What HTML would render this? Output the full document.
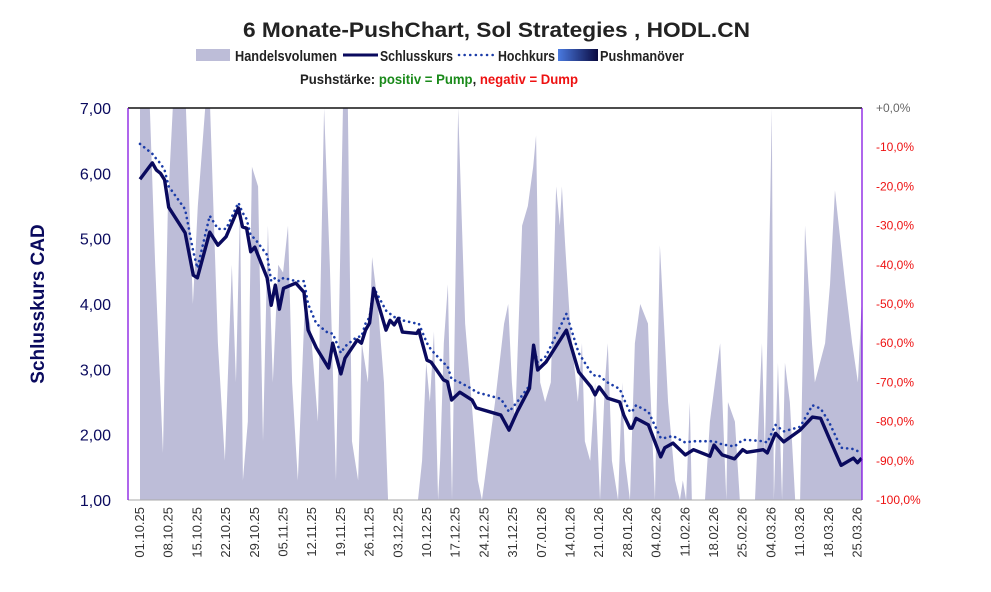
<!DOCTYPE html>
<html><head><meta charset="utf-8"><style>
body{margin:0;background:#fff;}
svg text{font-family:"Liberation Sans",Arial,sans-serif;}
</style></head><body>
<svg id="chart" width="991" height="587" viewBox="0 0 991 587" xmlns="http://www.w3.org/2000/svg">
<defs><linearGradient id="pg" x1="0" x2="1"><stop offset="0" stop-color="#4a7ae0"/><stop offset="1" stop-color="#0a0a40"/></linearGradient></defs>
<text x="243" y="37" font-size="21" font-weight="bold" fill="#222" textLength="507" lengthAdjust="spacingAndGlyphs">6 Monate-PushChart, Sol Strategies , HODL.CN</text>
<g>
<rect x="196" y="49" width="34" height="12" fill="#bdbdd8"/>
<text x="235" y="61" font-size="15" font-weight="bold" fill="#222" textLength="102" lengthAdjust="spacingAndGlyphs">Handelsvolumen</text>
<line x1="343" y1="55" x2="378" y2="55" stroke="#0a0a5e" stroke-width="3"/>
<text x="380" y="61" font-size="15" font-weight="bold" fill="#222" textLength="73" lengthAdjust="spacingAndGlyphs">Schlusskurs</text>
<line x1="459" y1="55" x2="493" y2="55" stroke="#1b3ca8" stroke-width="2.5" stroke-dasharray="0.1 5.5" stroke-linecap="round"/>
<text x="498" y="61" font-size="15" font-weight="bold" fill="#222" textLength="57" lengthAdjust="spacingAndGlyphs">Hochkurs</text>
<rect x="558" y="49" width="40" height="12" fill="url(#pg)"/>
<text x="600" y="61" font-size="15" font-weight="bold" fill="#222" textLength="84" lengthAdjust="spacingAndGlyphs">Pushmanöver</text>
</g>
<text x="300" y="84" font-size="14" font-weight="bold" textLength="278" lengthAdjust="spacingAndGlyphs"><tspan fill="#222">Pushstärke:  </tspan><tspan fill="#1a8a1a">positiv = Pump</tspan><tspan fill="#222">,  </tspan><tspan fill="#ee1111">negativ = Dump</tspan></text>
<text transform="translate(44,304) rotate(-90)" text-anchor="middle" font-size="19" font-weight="bold" fill="#0a0a5e">Schlusskurs CAD</text>
<g id="plot"></g>
</svg>
<script>
const closeDays=[0,3,4,5,6,7,11,13,14,17,19,21,24,25,26,27,28,31,32,33,34,35,38,40,41,43,46,47,49,50,53,54,55,56,57,60,61,62,63,64,67.5,68,70,71,74,75,76,78,81,82,88,90,92,95,96,97,99,104,107,110,111,112,114,117,118,119.5,120,121,124,127,128,130,133,135,139,140,142,145,147,148,152,153,155,157,161,164,166,168,171,174,175,176];
const closeVals=[5.91,6.16,6.05,6.0,5.9,5.48,5.09,4.44,4.4,5.1,4.9,5.03,5.47,5.18,5.16,4.8,4.87,4.4,3.98,4.29,3.92,4.24,4.32,4.18,3.6,3.33,3.02,3.4,2.93,3.17,3.45,3.4,3.6,3.71,4.24,3.6,3.75,3.68,3.78,3.57,3.55,3.6,3.14,3.11,2.84,2.81,2.53,2.65,2.53,2.41,2.3,2.07,2.35,2.71,3.37,2.99,3.11,3.6,2.96,2.73,2.61,2.73,2.56,2.5,2.3,2.1,2.1,2.25,2.15,1.66,1.8,1.87,1.69,1.77,1.67,1.84,1.69,1.63,1.77,1.73,1.77,1.72,2.02,1.89,2.07,2.27,2.25,1.96,1.53,1.64,1.57,1.64];
const highVals=[6.45,6.3,6.22,6.15,6.05,5.8,5.45,4.8,4.55,5.35,5.15,5.15,5.55,5.4,5.3,5.05,5.0,4.75,4.35,4.4,4.35,4.4,4.35,4.35,4.0,3.7,3.55,3.55,3.25,3.35,3.5,3.5,3.7,3.8,4.25,3.9,3.85,3.8,3.8,3.75,3.7,3.7,3.4,3.3,3.1,3.05,2.85,2.8,2.7,2.65,2.55,2.35,2.5,2.75,3.35,3.1,3.2,3.85,3.25,2.95,2.9,2.9,2.8,2.7,2.55,2.35,2.35,2.45,2.35,1.95,1.95,1.98,1.88,1.9,1.9,1.9,1.85,1.82,1.92,1.92,1.9,1.88,2.15,2.05,2.12,2.45,2.4,2.2,1.8,1.78,1.75,1.72];
const volDays=[0,2.4,3.7,5.6,6.8,8,11.2,12.9,14.1,15.9,17.1,19,20.7,22.4,23.4,24.4,25.1,26.3,27.3,28.8,30,31.2,32.4,33.7,34.9,36.1,37.1,38.5,40.2,41.5,43.4,44.9,46.3,47.8,49.5,50.7,51.7,53.2,54.1,55.6,56.6,58,59.5,60.5,62,63.4,65.9,67.8,68.8,69.8,70.7,71.7,72.7,73.2,74.1,75.1,76.1,77.6,79.3,80.5,82.4,83.4,86.6,88.8,89.8,90.7,91.5,93.2,94.6,95.9,96.6,97.6,98.8,100.2,101.5,102.4,102.9,103.7,104.9,106.8,107.8,108.5,109.8,111,112.2,113.4,114.1,115.1,116.6,117.6,118.3,119.5,120.7,122,123.9,124.4,125.6,126.8,128.8,130.5,131.7,132.4,133.2,134.1,134.6,137.8,139,141.5,143,143.4,145.1,146.3,147.6,150,151.7,152.4,153.7,154.1,154.6,155.6,156.6,157.3,158.5,159.8,161,162.2,163.9,164.6,167.1,168.3,169.5,172,173.7,175.1,176];
const volVals=[100,100,60,12,75,100,100,50,75,100,100,40,10,60,30,75,5,20,85,80,15,70,30,60,58,70,30,5,50,45,20,100,60,5,100,100,15,5,40,30,62,50,30,0,0,0,0,0,10,35,25,43,0,10,40,55,0,100,45,30,5,0,25,45,50,30,20,70,75,85,93,30,25,30,80,70,80,65,45,25,40,15,10,30,0,30,40,10,0,30,10,0,40,50,45,30,0,65,25,5,0,5,0,25,0,0,20,40,0,25,20,0,0,0,40,12,75,100,0,35,0,35,25,0,0,70,40,30,40,55,79,55,40,30,50];
const yTicks=[1,2,3,4,5,6,7];
const yTickLabels=["1,00","2,00","3,00","4,00","5,00","6,00","7,00"];
const rTicks=[0,-10,-20,-30,-40,-50,-60,-70,-80,-90,-100];
const rTickLabels=["+0,0%","-10,0%","-20,0%","-30,0%","-40,0%","-50,0%","-60,0%","-70,0%","-80,0%","-90,0%","-100,0%"];
const xTickDays=[0,7,14,21,28,35,42,49,56,63,70,77,84,91,98,105,112,119,126,133,140,147,154,161,168,175];
const xTickLabels=["01.10.25","08.10.25","15.10.25","22.10.25","29.10.25","05.11.25","12.11.25","19.11.25","26.11.25","03.12.25","10.12.25","17.12.25","24.12.25","31.12.25","07.01.26","14.01.26","21.01.26","28.01.26","04.02.26","11.02.26","18.02.26","25.02.26","04.03.26","11.03.26","18.03.26","25.03.26"];

const L=128,R=862,T=108,B=500;
const xS=d=>140+d*4.1;
const yS=v=>B-(v-1)/6*(B-T);
const rS=p=>T+(-p)/100*(B-T);
const vS=v=>B-v/100*(B-T);
const NS="http://www.w3.org/2000/svg";
const g=document.getElementById('plot');
function mk(t,a){const e=document.createElementNS(NS,t);for(const k in a)e.setAttribute(k,a[k]);g.appendChild(e);return e;}

let d=`M${xS(volDays[0])},${B}`;
volDays.forEach((dd,i)=>{d+=` L${xS(dd)},${vS(volVals[i])}`;});
d+=` L${xS(volDays[volDays.length-1])},${B} Z`;
const cp=mk('clipPath',{id:'pc'});const cr=document.createElementNS(NS,'rect');cr.setAttribute('x',L);cr.setAttribute('y',T);cr.setAttribute('width',R-L);cr.setAttribute('height',B-T);cp.appendChild(cr);
const va=mk('path',{d:d,fill:'#bdbdd8','clip-path':'url(#pc)'});



const hp=mk('path',{d:closeDays.map((dd,i)=>(i?'L':'M')+xS(dd)+','+yS(highVals[i])).join(' '),fill:'none',stroke:'#1b3ca8','stroke-width':2.6,'stroke-dasharray':'0.1 5.2','stroke-linecap':'round'});


const clp=mk('path',{d:closeDays.map((dd,i)=>(i?'L':'M')+xS(dd)+','+yS(closeVals[i])).join(' '),fill:'none',stroke:'#0a0a5e','stroke-width':3.4,'stroke-linejoin':'round'});



const tl=mk('line',{x1:L,y1:T,x2:R,y2:T,stroke:'#111','stroke-width':1.5});


const bl=mk('line',{x1:L,y1:B,x2:R,y2:B,stroke:'#aaa','stroke-width':1});


const ll=mk('line',{x1:L,y1:T,x2:L,y2:B,stroke:'#7a00e0','stroke-width':1.2});


const rl=mk('line',{x1:R,y1:T,x2:R,y2:B,stroke:'#7a00e0','stroke-width':1.2});



yTicks.forEach((v,i)=>{const t=mk('text',{x:111,y:yS(v)+6,'text-anchor':'end','font-size':16,fill:'#0a0a5e'});t.textContent=yTickLabels[i];

});
rTicks.forEach((p,i)=>{const t=mk('text',{x:876,y:rS(p)+4,'font-size':12,fill:i===0?'#666':'#ee1111'});t.textContent=rTickLabels[i];

});
xTickDays.forEach((dd,i)=>{const x=xS(dd);const t=mk('text',{transform:`translate(${x+4},507) rotate(-90)`,'text-anchor':'end','font-size':13,fill:'#333'});t.textContent=xTickLabels[i];

});
</script>
</body></html>
